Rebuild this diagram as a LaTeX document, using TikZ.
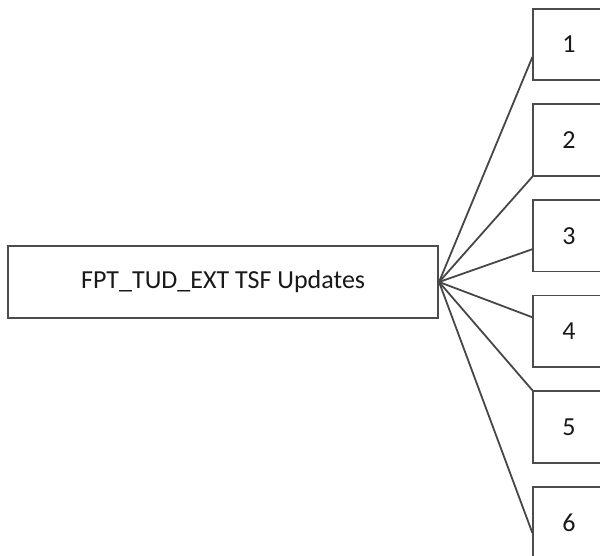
\documentclass[tikz,border=0pt]{standalone}
\usepackage{fontspec}
\setmainfont{Carlito}
\usetikzlibrary{calc}
\begin{document}
\begin{tikzpicture}[x=1pt,y=-1pt,
  box/.style={draw=black!70,line width=1.7pt,inner sep=0pt,text=black!90,
    font=\fontsize{26}{31}\selectfont},
  mainbox/.style={box,minimum width=430pt,minimum height=72.5pt},
  itembox/.style={box,minimum width=71.5pt,minimum height=71.5pt},
  link/.style={draw=black!72,line width=1.8pt}]
\useasboundingbox (0,0) rectangle (600,556);
\clip (0,0) rectangle (600,556);
\fill[white] (0,0) rectangle (600,556);

% main entry on the left
\node[mainbox] (main) at (223.2,282) {FPT\_TUD\_EXT TSF Updates};

% numbered items on the right
\node[itembox] (b1) at (569,44.5)  {1};
\node[itembox] (b2) at (569,140.1) {2};
\node[itembox] (b3) at (569,235.7) {3};
\node[itembox] (b4) at (569,331.3) {4};
\node[itembox] (b5) at (569,426.9) {5};
\node[itembox] (b6) at (569,522.5) {6};

% fan of links from the main entry
\draw[link] (main.east) -- ([yshift=-12.5pt]b1.west);
\draw[link] (main.east) -- (b2.south west);
\draw[link] (main.east) -- ([yshift=-13.5pt]b3.west);
\draw[link] (main.east) -- ([yshift=14pt]b4.west);
\draw[link] (main.east) -- (b5.north west);
\draw[link] (main.east) -- ([yshift=-10.5pt]b6.west);
\end{tikzpicture}
\end{document}
